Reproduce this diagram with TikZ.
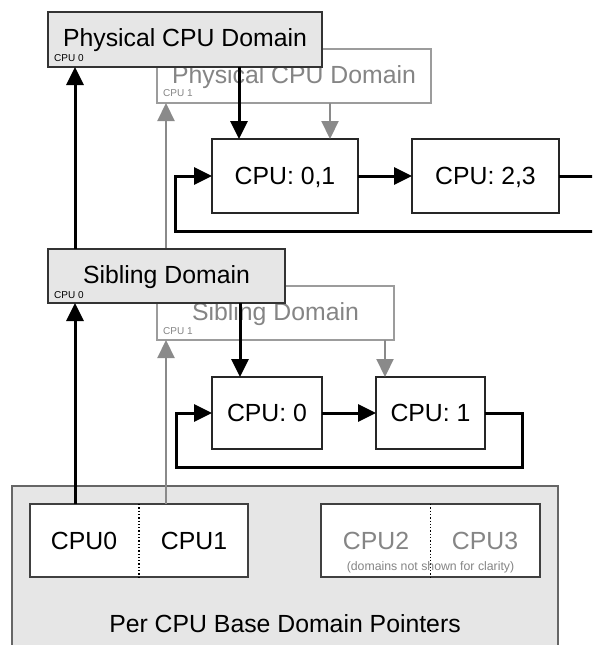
\documentclass[tikz,border=0pt]{standalone}
\usepackage{fontspec}
\setmainfont{Liberation Sans}
\usetikzlibrary{arrows.meta,calc}
\definecolor{gtxt}{HTML}{858585}
\definecolor{gline}{HTML}{8A8A8A}
\definecolor{lfill}{HTML}{E6E6E6}
\definecolor{bord}{HTML}{333333}
\begin{document}
\begin{tikzpicture}[x=1pt,y=-1pt,
  dom/.style={draw=bord,line width=2pt,fill=lfill,inner sep=0pt,outer sep=0pt},
  gdom/.style={draw=gline!85,line width=1.5pt,fill=white,inner sep=0pt,outer sep=0pt},
  cpubox/.style={draw=black!85,line width=1.8pt,fill=white,inner sep=0pt,outer sep=0pt},
  pairbox/.style={draw=black!75,line width=1.6pt,fill=white,inner sep=0pt,outer sep=0pt},
  basebox/.style={draw=black!60,line width=1.4pt,fill=lfill,inner sep=0pt,outer sep=0pt},
  big/.style={font=\fontsize{24.8}{28}\selectfont,inner sep=0pt,anchor=base},
  small/.style={font=\fontsize{10}{11}\selectfont,inner sep=0pt,anchor=base west},
  note/.style={font=\fontsize{12.3}{14}\selectfont,inner sep=0pt,anchor=base,text=gtxt},
  barrow/.style={line width=3pt,black,-{Triangle[length=18pt,width=17pt]}},
  garrow/.style={line width=2.2pt,gline,-{Triangle[length=18pt,width=17pt]}},
  bline/.style={line width=3pt,black},
  divider/.style={line width=1.3pt,dotted,black}]
\useasboundingbox (0,0) rectangle (592,645);
\clip (0,0) rectangle (592,645);
\fill[white] (0,0) rectangle (592,645);

% base area
\node[basebox,minimum width=546pt,minimum height=190pt] (base) at (285,581) {};
\node[pairbox,minimum width=218pt,minimum height=73pt] (pair01) at (139,540.5) {};
\node[pairbox,minimum width=219pt,minimum height=73pt] (pair23) at (430.5,540.5) {};
\draw[divider] (pair01.north) -- (pair01.south);
\draw[divider] (pair23.north) -- (pair23.south);
\node[big] (t0) at (84,549) {CPU0};
\node[big] (t1) at (194,549) {CPU1};
\node[big,text=gtxt] (t2) at (376,549) {CPU2};
\node[big,text=gtxt] (t3) at (485,549) {CPU3};
\node[note] (tnote) at (430.5,570) {(domains not shown for clarity)};
\node[big] (tbase) at (285,632) {Per CPU Base Domain Pointers};

% gray (CPU 1) domains
\node[gdom,minimum width=274pt,minimum height=54pt] (pd1) at (294,76) {};
\node[big,text=gtxt] (pd1t) at (294,83) {Physical CPU Domain};
\node[small,text=gtxt] (pd1s) at (163,96.5) {CPU 1};
\node[gdom,minimum width=237pt,minimum height=54pt] (sib1) at (275.5,313) {};
\node[big,text=gtxt] (sib1t) at (275.5,320) {Sibling Domain};
\node[small,text=gtxt] (sib1s) at (163,334) {CPU 1};

\coordinate (gx) at (166,0);
\draw[garrow] (pair01.north -| gx) -- (sib1.south -| gx);
\draw[garrow] (sib1.north -| gx) -- (pd1.south -| gx);

% black (CPU 0) domains
\node[dom,minimum width=274pt,minimum height=55pt] (pd0) at (185,39.5) {};
\node[big] (pd0t) at (185,46) {Physical CPU Domain};
\node[small] (pd0s) at (54,61) {CPU 0};
\node[dom,minimum width=237pt,minimum height=54pt] (sib0) at (166.5,276) {};
\node[big] (sib0t) at (166.5,283) {Sibling Domain};
\node[small] (sib0s) at (54,298) {CPU 0};

% CPU group boxes
\node[cpubox,minimum width=146pt,minimum height=74pt] (c01) at (285,176) {};
\node[big] (c01t) at (285,184) {CPU: 0,1};
\node[cpubox,minimum width=147pt,minimum height=74pt] (c23) at (485.5,176) {};
\node[big] (c23t) at (485.5,184) {CPU: 2,3};
\node[cpubox,minimum width=110pt,minimum height=72pt] (c0) at (267,413) {};
\node[big] (c0t) at (267,421) {CPU: 0};
\node[cpubox,minimum width=109pt,minimum height=72pt] (c1) at (430.5,413) {};
\node[big] (c1t) at (430.5,421) {CPU: 1};

% black connectors
\coordinate (bx) at (75,0);
\draw[barrow] (pair01.north -| bx) -- (sib0.south -| bx);
\draw[barrow] (sib0.north -| bx) -- (pd0.south -| bx);
\coordinate (px0) at (239,0);
\coordinate (px1) at (330,0);
\coordinate (sx0) at (240,0);
\coordinate (sx1) at (385,0);
\draw[barrow] (pd0.south -| px0) -- (c01.north -| px0);
\draw[garrow] (pd1.south -| px1) -- (c01.north -| px1);
\draw[barrow] (sib0.south -| sx0) -- (c0.north -| sx0);
\draw[garrow] (sib1.south -| sx1) -- (c1.north -| sx1);

% physical group ring
\draw[barrow] (c01.east) -- (c23.west);
\coordinate (pout) at (600,176);
\coordinate (pin) at (600,231);
\coordinate (pl) at (175,231);
\draw[bline] (c23.east) -- (c23.east -| pout);
\draw[barrow] (pin) -- (pl) |- (c01.west);

% sibling group ring
\draw[barrow] (c0.east) -- (c1.west);
\coordinate (sr) at (522,467);
\coordinate (sl) at (176,467);
\draw[barrow] (c1.east) -| (sr) -- (sl) |- (c0.west);
\end{tikzpicture}
\end{document}
